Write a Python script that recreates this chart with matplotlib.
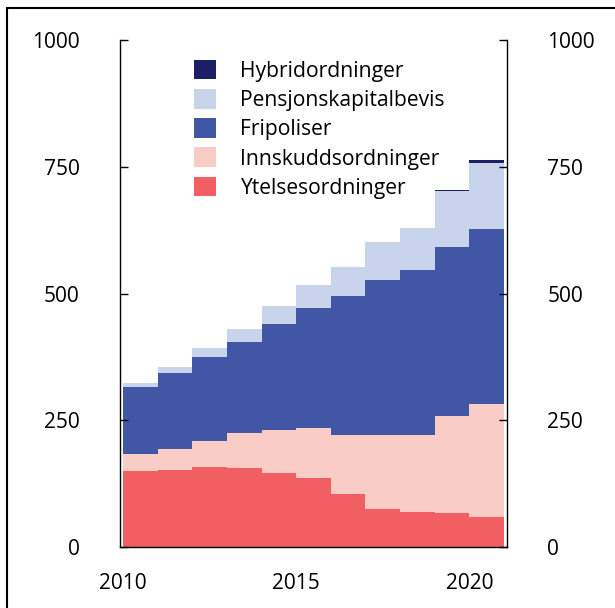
import matplotlib.pyplot as plt
from matplotlib.patches import Rectangle
import numpy as np

plt.rcParams['font.family'] = ['Open Sans', 'DejaVu Sans']

# Data (milliarder kroner)
years = [2010, 2011, 2012, 2013, 2014, 2015, 2016, 2017, 2018, 2019, 2020, 2021]
ytelse = [150, 152, 157, 156, 146, 137, 105, 75, 70, 68, 60, 58]
innskudd = [33, 41, 53, 69, 85, 98, 116, 145, 151, 190, 223, 232]
fripoliser = [133, 151, 165, 179, 209, 237, 274, 306, 325, 334, 344, 375]
pensjonskapital = [7, 11, 17, 26, 35, 45, 57, 75, 83, 110, 131, 180]
hybrid = [0, 0, 0, 0, 0, 0, 0, 1, 1, 2, 5, 3]

labels = ['Ytelsesordninger', 'Innskuddsordninger', 'Fripoliser',
          'Pensjonskapitalbevis', 'Hybridordninger']
colors = ['#F25F63', '#FACCC6', '#4157A6', '#C8D4EC', '#1B1F66']

fig = plt.figure(figsize=(6.15, 6.08), dpi=100)
ax = fig.add_axes([120/615, 1 - 547/608, 387/615, 507/608])

series = [ytelse, innskudd, fripoliser, pensjonskapital, hybrid]
base = np.zeros(len(years))
handles = []
for vals, lab, col in zip(series, labels, colors):
    top = base + np.array(vals)
    h = ax.fill_between(years, base, top, step='post', color=col,
                        linewidth=0, label=lab)
    handles.append(h)
    base = top

ax.set_xlim(2009.91, 2021.09)
ax.set_ylim(0, 1000)
ax.set_xticks([2010, 2015, 2020])
ax.set_yticks([0, 250, 500, 750, 1000])
ax.tick_params(axis='x', length=0, pad=19, labelsize=15)
ax.tick_params(axis='y', direction='in', length=5.5, width=1, pad=29,
               labelsize=15, left=True, right=True,
               labelleft=True, labelright=True)
for side in ['left', 'right', 'bottom']:
    ax.spines[side].set_linewidth(1)
ax.spines['top'].set_visible(False)

ax.legend(handles[::-1], labels[::-1], loc='upper left',
          bbox_to_anchor=(0.19, 0.961), frameon=False, fontsize=15.2,
          handlelength=1.06, handleheight=1.06, handletextpad=1.12,
          labelspacing=0.34, borderpad=0, borderaxespad=0)

# outer frame (cropped on the right and bottom)
fig.patches.append(Rectangle((7/615, -0.1), 1.2, 1 - 8/608 + 0.1,
                             transform=fig.transFigure, fill=False,
                             edgecolor='black', linewidth=1.5))

fig.savefig('out.png', dpi=100)
